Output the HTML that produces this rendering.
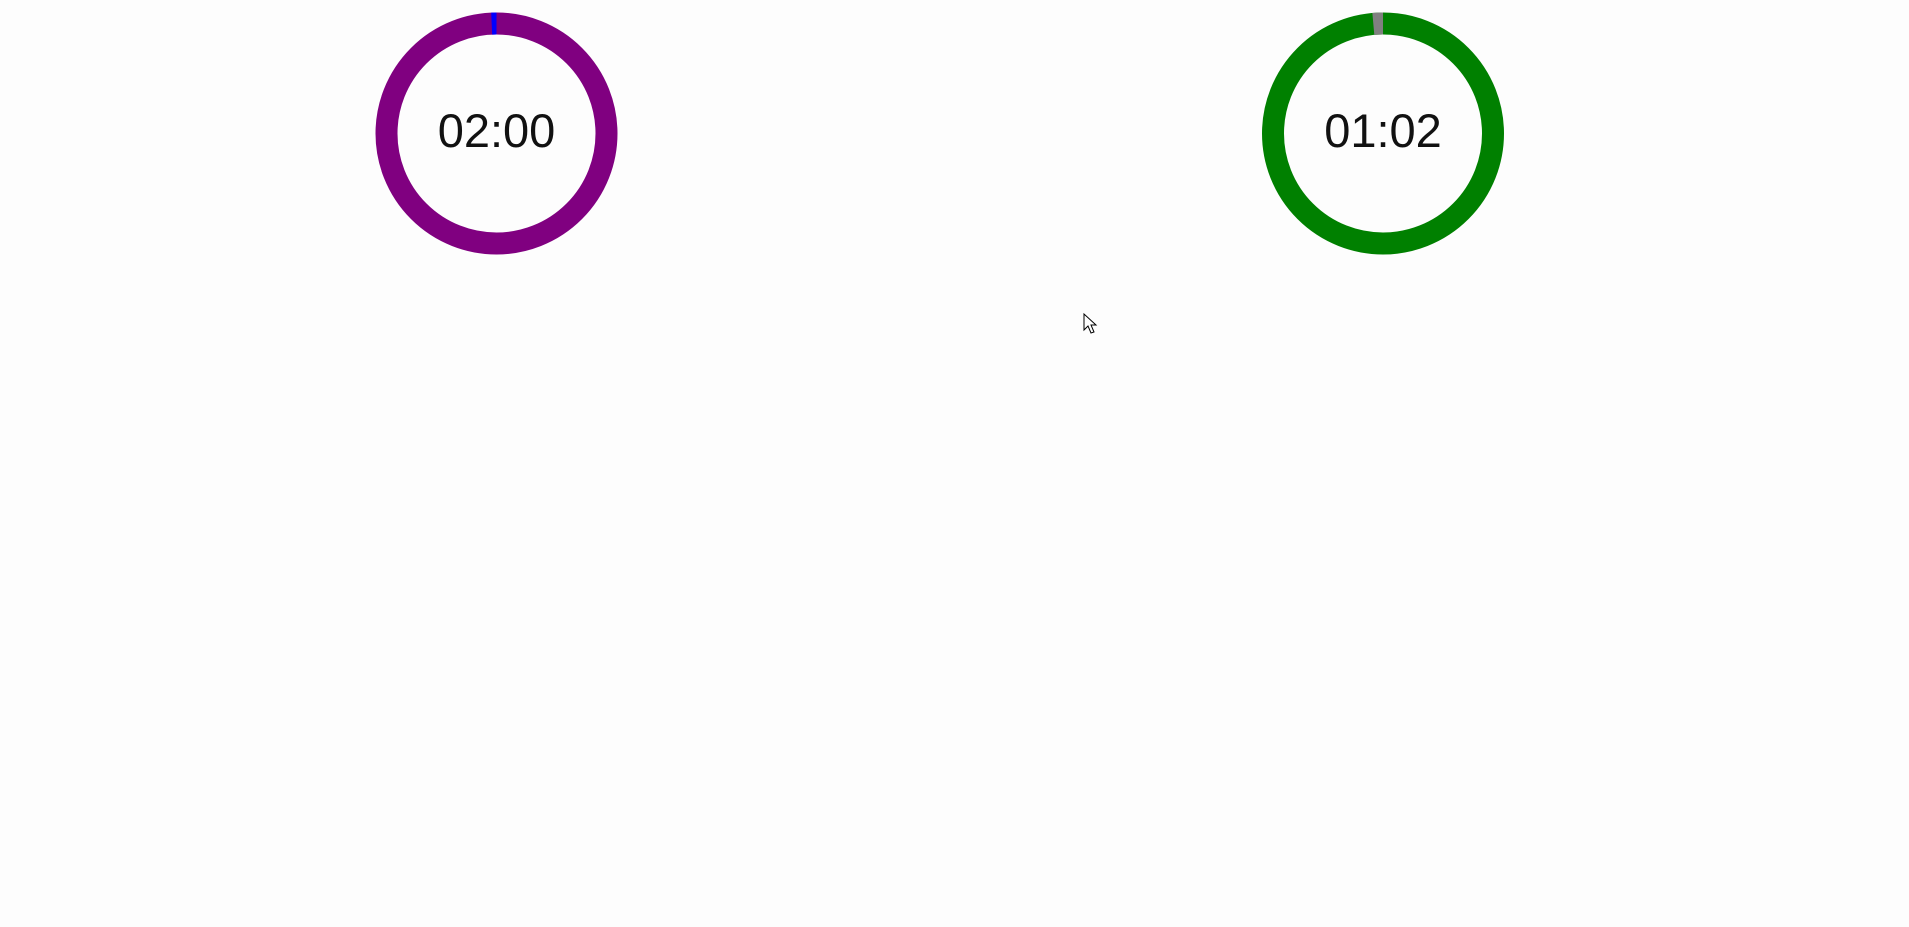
<!DOCTYPE html>
<html><head><meta charset="utf-8"><style>
html,body{margin:0;padding:0;background:#fdfdfd;width:1909px;height:927px;overflow:hidden}
svg{position:absolute;left:0;top:0}
</style></head><body>
<svg width="1909" height="927">
<g id="g"></g>
<path d="M1084,314 L1084,330 L1088,326 L1091,333 L1094,332 L1091,325 L1096,325 Z" fill="#fff" stroke="#000" stroke-width="1"/>
</svg>
<script>
const timerLabels = ["02:00", "01:02"];
const elapsedFraction = [0.007, 0.014];
const ringColors = ["#800080", "#008000"];
const markColors = ["#0000ff", "#808080"];
const centersX = [496.5, 1383];
const cy = 133.5, R = 110, W = 22;
const NS = "http://www.w3.org/2000/svg";
const g = document.getElementById('g');
function arc(a0, a1) {
  const p = a => [centersX[cur] + R*Math.sin(a), cy - R*Math.cos(a)];
  const [x0,y0] = p(a0), [x1,y1] = p(a1);
  const large = (a1 - a0) > Math.PI ? 1 : 0;
  return `M${x0},${y0} A${R},${R} 0 ${large} 1 ${x1},${y1}`;
}
let cur = 0;
for (let i = 0; i < timerLabels.length; i++) {
  cur = i;
  const ring = document.createElementNS(NS, 'circle');
  
  
  ring.setAttribute('cx', centersX[i]); ring.setAttribute('cy', cy); ring.setAttribute('r', R);
  ring.setAttribute('fill', 'none'); ring.setAttribute('stroke', ringColors[i]); ring.setAttribute('stroke-width', W);
  g.appendChild(ring);
  const a = elapsedFraction[i] * 2 * Math.PI;
  const m = document.createElementNS(NS, 'path');
  
  
  m.setAttribute('d', arc(-a, 0.0001));
  m.setAttribute('fill', 'none'); m.setAttribute('stroke', markColors[i]); m.setAttribute('stroke-width', W);
  g.appendChild(m);
  const t = document.createElementNS(NS, 'text');
  
  
  t.setAttribute('x', centersX[i]); t.setAttribute('y', 147);
  t.setAttribute('text-anchor', 'middle');
  t.setAttribute('font-family', 'Liberation Sans, sans-serif');
  t.setAttribute('font-size', '47');
  t.setAttribute('fill', '#111');
  t.textContent = timerLabels[i];
  g.appendChild(t);
}
</script>
</body></html>
